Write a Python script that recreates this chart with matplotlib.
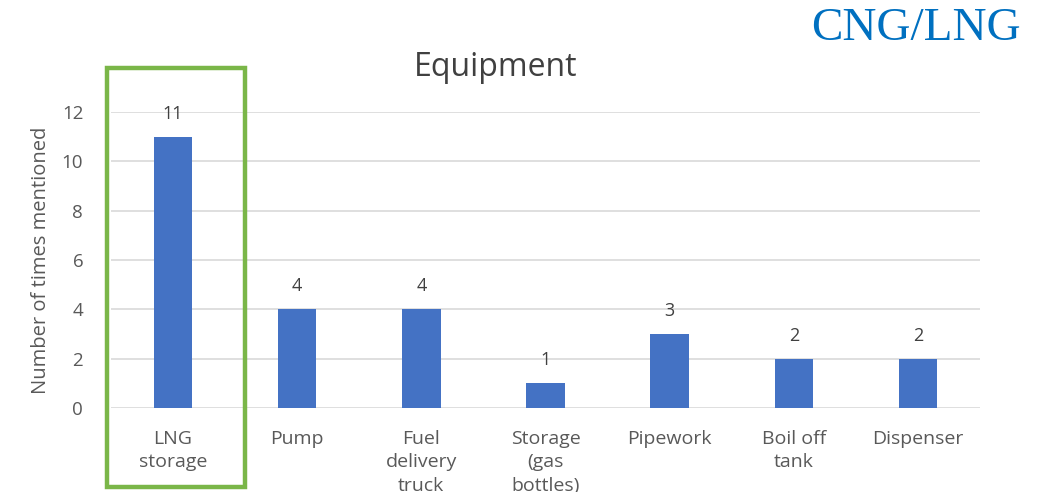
import matplotlib
matplotlib.use("Agg")
import matplotlib.pyplot as plt
from matplotlib.patches import Rectangle

categories = ["LNG\nstorage", "Pump", "Fuel\ndelivery\ntruck", "Storage\n(gas\nbottles)",
              "Pipework", "Boil off\ntank", "Dispenser"]
counts = [11, 4, 4, 1, 3, 2, 2]
y_ticks = [0, 2, 4, 6, 8, 10, 12]

W, H = 1048, 492
fig = plt.figure(figsize=(W / 100, H / 100), dpi=100)
fig.patch.set_facecolor("white")
plt.rcParams["font.family"] = ["Open Sans", "DejaVu Sans"]

ax = fig.add_axes([111 / W, 84 / H, (980 - 111) / W, (408 - 112) / H])
x = range(len(categories))
ax.bar(x, counts, width=0.31, color="#4472C4", zorder=3)
ax.set_xlim(-0.5, len(categories) - 0.5)
ax.set_ylim(0, 12)
ax.set_yticks(y_ticks)
ax.set_yticklabels([str(v) for v in y_ticks], fontsize=13.5, color="#595959")
ax.set_xticks(list(x))
ax.set_xticklabels(categories, fontsize=14, color="#595959", linespacing=1.4, va="top")
ax.tick_params(axis="both", length=0)
ax.tick_params(axis="x", pad=15.5)
ax.tick_params(axis="y", pad=20)
ax.grid(axis="y", color="#d9d9d9", linewidth=1.2, zorder=0)
for s in ax.spines.values():
    s.set_visible(False)

for xi, v in zip(x, counts):
    ax.annotate(str(v), (xi, v), xytext=(0, 10), textcoords="offset points",
                ha="center", va="bottom", fontsize=13, color="#404040")

ax.set_ylabel("Number of times mentioned", fontsize=14.5, color="#595959", labelpad=8)

fig.text(496 / W, 1 - 67 / H, "Equipment", fontsize=23, color="#404040",
         ha="center", va="center")

fig.text(1021 / W, 1 - 29 / H, "CNG/LNG", fontsize=34, color="#0070C0",
         family="Liberation Serif", ha="right", va="center")

fig.patches.append(Rectangle((107 / W, 5 / H), 138 / W, 419 / H, fill=False,
                             edgecolor="#7AB648", linewidth=3.2,
                             transform=fig.transFigure, figure=fig))

fig.savefig("out.png", dpi=100)
